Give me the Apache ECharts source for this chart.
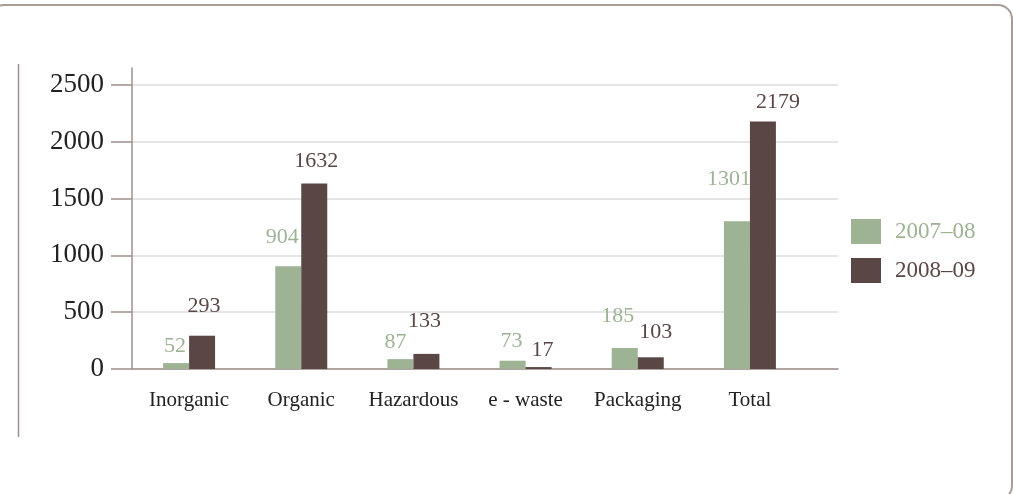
<!DOCTYPE html>
<html>
<head>
<meta charset="utf-8">
<style>
  html, body { margin: 0; padding: 0; background: #ffffff; }
  #chart { width: 1013px; height: 494px; }
</style>
<script src="https://cdn.jsdelivr.net/npm/echarts@6/dist/echarts.min.js"></script>
</head>
<body>
<div id="chart"></div>
<script>
// Waste generated by type, two reporting years
const categories = ['Inorganic', 'Organic', 'Hazardous', 'e - waste', 'Packaging', 'Total'];
const seriesNames = ['2007–08', '2008–09'];
const values2007 = [52, 904, 87, 73, 185, 1301];
const values2008 = [293, 1632, 133, 17, 103, 2179];
const yTicks = [0, 500, 1000, 1500, 2000, 2500];

// Small per-bar nudges for the value labels (relative to the bar top centre)
const labelNudge2007 = [[-1, -17], [-6, -29], [-5, -17], [-1, -19], [-7, -32], [-8, -42]];
const labelNudge2008 = [[2, -29], [2, -22], [-2, -33], [4, -17], [5, -25], [15, -19]];

const GREEN = '#9db394';
const BROWN = '#5a4645';
const AXIS = '#9d8f8c';
const FONT = '"Liberation Serif", "DejaVu Serif", serif';

const chart = echarts.init(document.getElementById('chart'), null, { renderer: 'canvas' });

function makeSeries(name, values, color, nudges) {
  return {
    name: name,
    type: 'bar',
    xAxisIndex: 2,
    yAxisIndex: 2,
    barWidth: 26,
    barGap: '0%',
    itemStyle: { color: color },
    data: values.map((v, i) => ({
      value: v,
      label: { offset: nudges[i] }
    })),
    label: {
      show: true,
      position: 'top',
      distance: 0,
      verticalAlign: 'middle',
      color: color,
      fontFamily: FONT,
      fontSize: 22
    }
  };
}

const option = {
  animation: false,
  backgroundColor: '#ffffff',
  textStyle: { fontFamily: FONT },
  graphic: [
    {
      type: 'rect',
      shape: { x: -10, y: 5, width: 1022, height: 495, r: 14 },
      style: { fill: 'none', stroke: '#a89b98', lineWidth: 2 },
      silent: true
    },
    {
      type: 'line',
      shape: { x1: 18.5, y1: 64, x2: 18.5, y2: 437 },
      style: { stroke: AXIS, lineWidth: 1.5 },
      silent: true
    }
  ],
  legend: {
    orient: 'vertical',
    left: 851,
    top: 219,
    padding: 0,
    itemWidth: 30,
    itemHeight: 25,
    itemGap: 14,
    icon: 'rect',
    data: [
      { name: seriesNames[0], textStyle: { color: GREEN } },
      { name: seriesNames[1], textStyle: { color: BROWN } }
    ],
    textStyle: { fontFamily: FONT, fontSize: 23, padding: [0, 0, 0, 9] }
  },
  grid: [
    // tall frame carrying only the vertical axis line
    { left: 132, top: 68, width: 706, height: 301 },
    // value scale: ticks, labels, grid lines, base line
    { left: 132, top: 85, width: 706, height: 284 },
    // bars
    { left: 133, top: 85, width: 673, height: 284 }
  ],
  xAxis: [
    { gridIndex: 0, type: 'value', min: 0, max: 1, show: false },
    {
      gridIndex: 1, type: 'value', min: 0, max: 1,
      axisLine: { show: true, lineStyle: { color: AXIS, width: 1.5 } },
      axisTick: { show: false }, axisLabel: { show: false }, splitLine: { show: false }
    },
    {
      gridIndex: 2, type: 'category', data: categories,
      axisLine: { show: false }, axisTick: { show: false }, splitLine: { show: false },
      axisLabel: { interval: 0, color: '#222', fontFamily: FONT, fontSize: 21, margin: 21 }
    }
  ],
  yAxis: [
    {
      gridIndex: 0, type: 'value', min: 0, max: 1,
      axisLine: { show: true, lineStyle: { color: AXIS, width: 1.5 } },
      axisTick: { show: false }, axisLabel: { show: false }, splitLine: { show: false }
    },
    {
      gridIndex: 1, type: 'value',
      min: yTicks[0], max: yTicks[yTicks.length - 1], interval: yTicks[1] - yTicks[0],
      axisLine: { show: false },
      axisTick: { show: true, length: 21, lineStyle: { color: AXIS, width: 1.5 } },
      axisLabel: {
        color: '#222', fontFamily: FONT, fontSize: 27, margin: 28,
        formatter: (v) => String(v)
      },
      splitLine: { show: true, lineStyle: { color: '#dcdcdc', width: 1.5 } }
    },
    {
      gridIndex: 2, type: 'value',
      min: yTicks[0], max: yTicks[yTicks.length - 1],
      show: false
    }
  ],
  series: [
    makeSeries(seriesNames[0], values2007, GREEN, labelNudge2007),
    makeSeries(seriesNames[1], values2008, BROWN, labelNudge2008)
  ]
};

chart.setOption(option);
</script>
</body>
</html>
